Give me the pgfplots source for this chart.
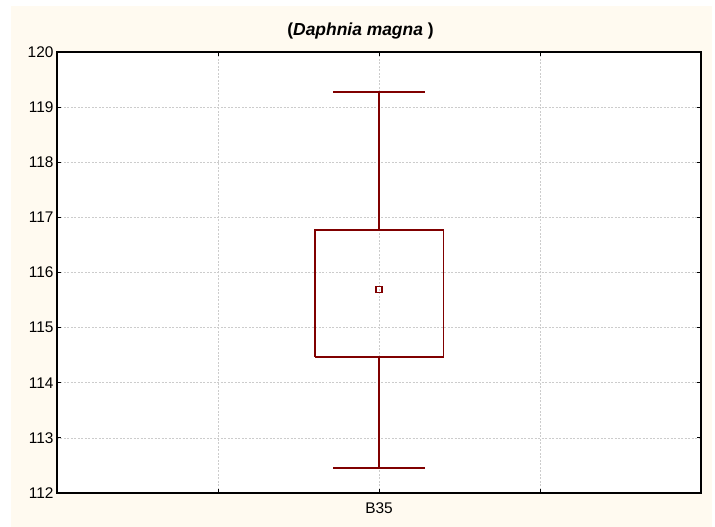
\documentclass[border=0pt]{standalone}
\usepackage{fontspec}
\setmainfont{Liberation Sans}
\usepackage{pgfplots}
\pgfplotsset{compat=1.18}
\definecolor{cream}{RGB}{255,250,240}
\definecolor{boxred}{RGB}{128,0,0}
\begin{document}
\begin{tikzpicture}[x=1bp,y=1bp]
\useasboundingbox (0,0) rectangle (715,527);
\fill[cream] (11,0) rectangle (712,521);
\node[font=\fontsize{17.5}{20}\selectfont\bfseries] at (360.5,496) {(\textit{Daphnia magna} )};
\begin{axis}[at={(57bp,34bp)}, anchor=south west, scale only axis,
  width=644bp, height=441bp,
  xmin=0, xmax=4, ymin=112, ymax=120,
  xtick={1,2,3}, xticklabels={,B35,},
  ytick={112,113,...,120},
  tick align=inside, major tick length=4bp,
  tick style={black, line width=1pt},
  grid=major, grid style={dash pattern=on 2pt off 1.5pt, gray!40, line width=0.6pt},
  axis line style={line width=1.6pt},
  axis background/.style={fill=white},
  ticklabel style={font=\fontsize{15.5}{18}\selectfont},
  /pgf/number format/assume math mode=true,
  yticklabel style={xshift=0bp},
  xticklabel style={yshift=-6bp},
  clip=false]
\addplot[boxred, line width=1.8pt] coordinates {(1.6,114.46) (2.4,114.46) (2.4,116.77) (1.6,116.77) (1.6,114.46)};
\addplot[boxred, line width=1.8pt] coordinates {(2,116.77) (2,119.28)};
\addplot[boxred, line width=1.8pt] coordinates {(1.717,119.28) (2.283,119.28)};
\addplot[boxred, line width=1.8pt] coordinates {(2,114.46) (2,112.46)};
\addplot[boxred, line width=1.8pt] coordinates {(1.717,112.46) (2.283,112.46)};
\addplot[boxred, only marks, mark=square, mark size=3bp, mark options={line width=1.6pt}] coordinates {(2,115.69)};
\end{axis}
\end{tikzpicture}
\end{document}
